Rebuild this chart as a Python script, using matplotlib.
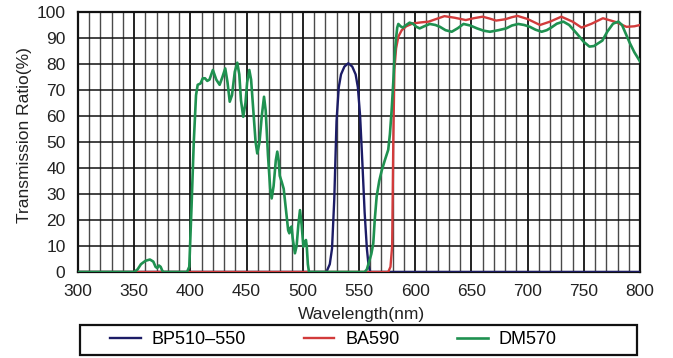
from matplotlib import pyplot as plt
from matplotlib.patches import Rectangle
import numpy as np

plt.rcParams["font.family"] = ["Liberation Sans", "DejaVu Sans"]

# BP510-550 (excitation band pass)
bpWave = [300, 521, 524, 526, 528, 530, 532, 534, 537, 540.5, 544, 547, 549, 551,
          553, 555, 557, 558.5, 560, 800]
bpTrans = [0, 0, 3, 9, 28, 58, 71, 76, 79, 80.3, 79, 76, 71, 60,
           42, 23, 9, 2.5, 0, 0]

# BA590 (barrier filter)
baWave = [300, 576, 578, 579.5, 580.5, 581.5, 583, 585, 588, 592, 598, 605, 612,
          620, 626, 635, 645, 652, 660, 666, 672, 680, 686, 691, 700, 711, 720,
          730, 740, 748, 757, 767, 778, 788, 795, 800]
baTrans = [0, 0, 2, 10, 50, 78, 86, 90.5, 93, 94.5, 95.6, 96, 96.3,
           97.5, 98.4, 97.8, 96.9, 97.6, 98.2, 97.5, 96.7, 97.2, 98, 98.5, 97.3, 95, 96.3,
           98.2, 96.3, 94, 95.5, 97.6, 96.2, 94.3, 94.5, 95]

# DM570 (dichroic mirror)
dmWave = [300, 350, 353, 356, 360, 364, 367, 369, 370.5, 372, 373.5, 375, 376,
          397, 399, 401, 403, 405, 406.5, 409, 411, 413, 415, 417, 420, 423, 426,
          428.5, 431, 433, 435, 437, 439.5, 441.7, 443.5, 445, 447, 449, 450.5,
          452.4, 454, 456, 458, 459.5, 461.5, 463.5, 465.5, 467, 469, 471, 472.3,
          474, 476, 477.3, 478.5, 479.5, 481.2, 483, 485, 487, 488, 489, 490, 491,
          493, 494.5, 496, 497.5, 499, 500.5, 501.5, 502.8, 503.5, 504.5, 505.5,
          555, 557, 559, 561, 562.7, 564, 565.7, 568, 570.2, 573, 576, 577.5, 579,
          580.5, 581.5, 583, 584, 585, 587, 589, 592, 595, 598, 601, 604, 608, 613,
          618, 622, 627, 632.5, 638, 643, 649, 655, 661, 666.5, 674, 681, 686,
          691.7, 697, 702, 707, 712.5, 717, 721, 726, 731.8, 737, 743.6, 750, 755,
          759, 766.5, 771, 776, 780.7, 784, 788, 791, 795, 800]
dmTrans = [0, 0, 1, 3, 4.3, 4.8, 4, 2, 1.5, 2.5, 2, 0.5, 0,
           0, 2, 25, 50, 68, 72, 72.5, 74.5, 74.5, 73.5, 74, 77.7, 74, 72,
           75, 78.3, 73, 65.5, 68, 77, 80.5, 76, 66, 59.7, 65, 73,
           77.7, 74, 62, 50, 45.6, 50, 60, 67.4, 62, 45, 32, 28.3,
           33, 43, 46.3, 43, 37, 34.7, 32, 24, 16, 14.9, 17, 17.5, 13,
           7.2, 10, 18, 23.8, 18, 9.7, 11, 12.3, 10, 3, 0,
           0, 1, 4, 7, 11, 20, 29, 35, 39, 43, 47, 53, 62,
           73, 82, 90, 94, 95.4, 94.5, 94, 95, 95.9, 95.5, 94.3, 93.7, 94.5, 95.4,
           95, 94.3, 93, 92.4, 93.8, 95.4, 94.8, 93.7, 92.8, 92.4, 93, 93.7, 94.8,
           95.4, 95, 94.3, 93.2, 92.4, 93, 94, 95.5, 96.3, 95, 91.8, 88.5, 86.7,
           86.9, 89, 92.5, 95.5, 96.3, 95, 91, 88, 84.5, 81]

xTicks = np.arange(300, 801, 50)
yTicks = np.arange(0, 101, 10)


fig = plt.figure(figsize = (6.73, 3.58), dpi = 100)
ax = fig.add_axes([78 / 673, 1 - 272 / 358, 562 / 673, 260 / 358])

ax.plot(bpWave, bpTrans, color = "#1c1c66", lw = 1.7, label = "BP510\u2013550", zorder = 3)
ax.plot(baWave, baTrans, color = "#d23b3b", lw = 1.7, label = "BA590", zorder = 4)
ax.plot(dmWave, dmTrans, color = "#1f9150", lw = 1.9, label = "DM570", zorder = 5)

ax.set_xlim(300, 800)
ax.set_ylim(0, 100)
ax.set_xticks(xTicks)
ax.set_yticks(yTicks)
ax.set_xticks(np.arange(300, 801, 10), minor = True)
ax.tick_params(which = "both", length = 0, labelsize = 12.5, colors = "#222222")
ax.tick_params(axis = "x", pad = 9)
ax.tick_params(axis = "y", pad = 9)

# grid: every 10 nm vertically, every 10 % horizontally
ax.grid(which = "minor", axis = "x", color = "#4a4a4a", lw = 1.0)
ax.grid(which = "major", axis = "x", color = "#111111", lw = 1.3)
ax.grid(which = "major", axis = "y", color = "#111111", lw = 1.1)
for s in ax.spines.values():
    s.set_linewidth(1.6)
    s.set_color("#111111")

ax.set_xlabel("Wavelength(nm)", fontsize = 12.5, color = "#222222")
ax.xaxis.set_label_coords(0.505, -0.135)
fig.text(25 / 673, 1 - 135 / 358, "Transmission Ratio(%)", rotation = 90,
         ha = "center", va = "center", fontsize = 12.5, color = "#222222")

# legend box under the plot
fig.patches.append(Rectangle((80 / 673, 1 - 355 / 358), 557 / 673, 30 / 358,
                             transform = fig.transFigure, fill = False,
                             edgecolor = "#111111", lw = 1.6))
fig.legend(loc = "center left", bbox_to_anchor = (110 / 673, 1 - 340 / 358),
           ncol = 3, frameon = False, fontsize = 13, handlelength = 1.7,
           handletextpad = 0.6, columnspacing = 3.2, borderpad = 0,
           borderaxespad = 0)

plt.savefig("out.png", dpi = 100)
